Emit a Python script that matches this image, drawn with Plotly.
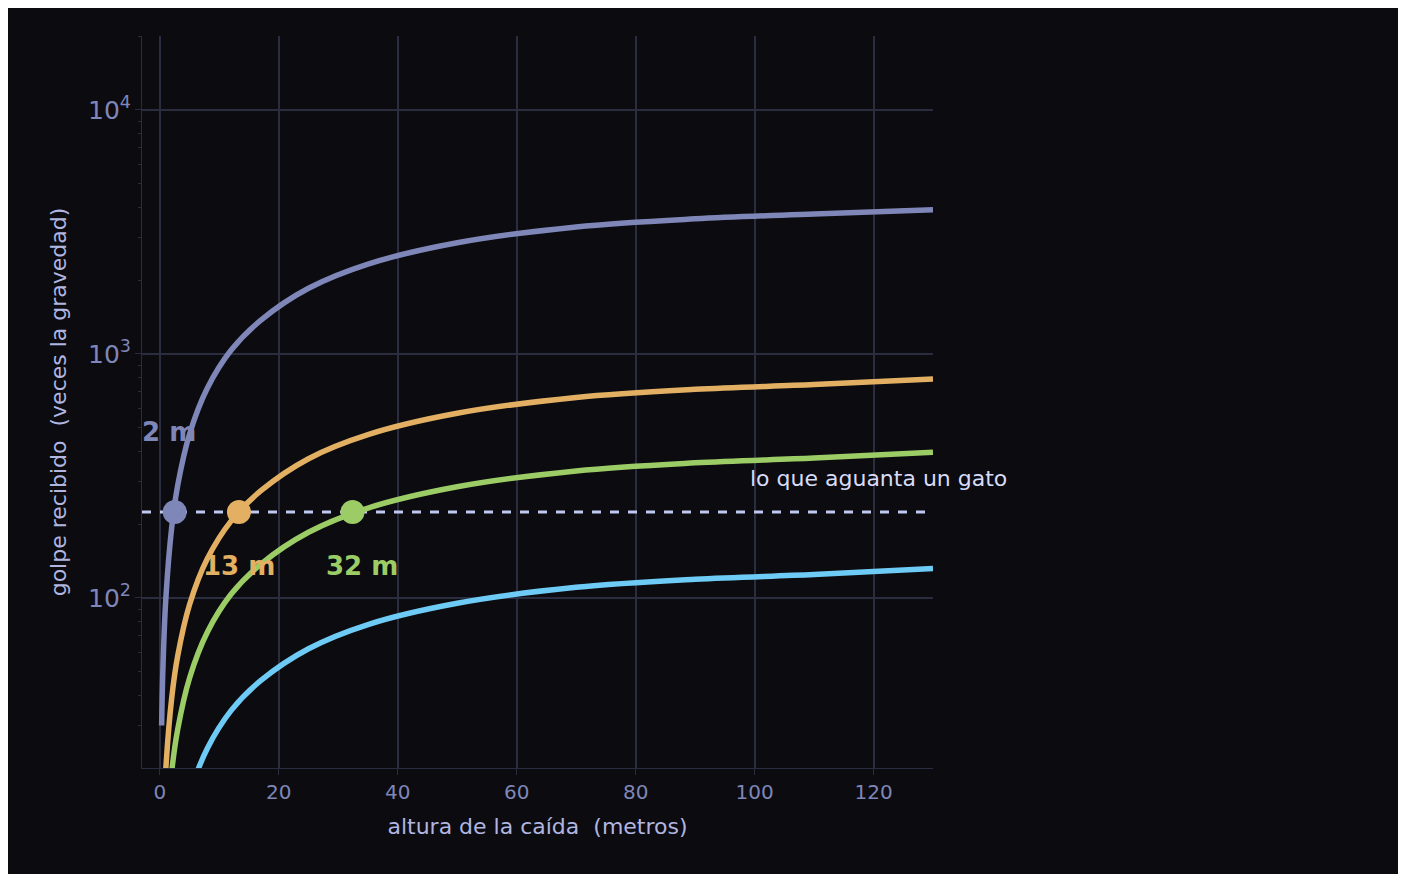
import plotly.graph_objects as go

# readings from the picture: drop height (m) vs. g-force
heights = [0.3, 0.5, 1, 2, 3, 5, 8, 12, 17, 25, 35, 50, 70, 90, 110, 130]
concrete = [30, 49.7, 98.8, 195, 289, 470, 725, 1037, 1376, 1858, 2335, 2854, 3316, 3578, 3744, 3900]
paws = [6, 9.9, 19.8, 39, 57.8, 94, 145, 207, 275, 372, 467, 571, 663, 716, 749, 790]
grass = [3, 5, 9.9, 19.5, 28.9, 47, 72.5, 103.7, 137.6, 185.8, 233.5, 285.4, 331.6, 357.8, 374.4, 395]
awning = [1, 1.66, 3.3, 6.5, 9.6, 15.7, 24.2, 34.6, 45.9, 61.9, 77.8, 95.1, 110.5, 119.3, 124.8, 132]

names = ["contra hormigón, sin flexionar", "sólo sus patas · 5 cm",
         "patas + césped · 10 cm", "patas + toldo · 30 cm"]
colors = ["#7f86b8", "#e3b063", "#9ccc65", "#6ecbf5"]
series = [concrete, paws, grass, awning]

limit = 225
cross_x = [2.5, 13.3, 32.4]

fig = go.Figure()
fig.add_trace(go.Scatter(x=[-3, 130], y=[limit, limit], mode="lines",
                         line=dict(color="#c0c8f0", width=3, dash="dash"), showlegend=False))
for ys, c, n in zip(series, colors, names):
    fig.add_trace(go.Scatter(x=heights, y=ys, mode="lines", line=dict(color=c, width=5.5, shape="spline"),
                             showlegend=False))
    fig.add_annotation(x=1.032, y=ys[-1], xref="paper", yref="y", text=n, showarrow=False,
                       xanchor="left", font=dict(color=c, size=21))

fig.add_trace(go.Scatter(x=cross_x, y=[limit] * 3, mode="markers",
                         marker=dict(color=colors[:3], size=24), showlegend=False))

fig.add_annotation(x=1.5, y=2.68, yref="y", xref="x", text="<b>2 m</b>", showarrow=False,
                   font=dict(color=colors[0], size=26))
fig.add_annotation(x=cross_x[1], y=2.13, yref="y", xref="x", text="<b>13 m</b>", showarrow=False,
                   font=dict(color=colors[1], size=26))
fig.add_annotation(x=34, y=2.13, yref="y", xref="x", text="<b>32 m</b>", showarrow=False,
                   font=dict(color=colors[2], size=26))
fig.add_annotation(x=1.096, y=2.49, yref="y", xref="paper", text="lo que aguanta un gato", showarrow=False,
                   xanchor="right", font=dict(color="#d8dcf8", size=22))

fig.update_layout(
    width=1406, height=874, paper_bgcolor="#0b0b10", plot_bgcolor="#0b0b10",
    margin=dict(l=134, r=481, t=28, b=114),
    font=dict(family="DejaVu Sans", color="#7f86b8", size=20),
    xaxis=dict(range=[-3, 130], tickvals=[0, 20, 40, 60, 80, 100, 120], gridcolor="#2a2c40",
               gridwidth=1.5, zeroline=False, showline=True, linecolor="#2a2c40", ticks="outside",
               tickcolor="#2a2c40", ticklen=6,
               title=dict(text="altura de la caída  (metros)", font=dict(color="#b0b6e0", size=22))),
    yaxis=dict(type="log", range=[1.303, 4.303], dtick=1, exponentformat="power", gridcolor="#2a2c40",
               gridwidth=1.5, zeroline=False, showline=True, linecolor="#2a2c40", ticks="outside",
               tickcolor="#2a2c40", ticklen=6,
               minor=dict(ticks="outside", ticklen=3, tickcolor="#2a2c40", showgrid=False),
               title=dict(text="golpe recibido  (veces la gravedad)", font=dict(color="#b0b6e0", size=22))),
)
fig.write_html("out.html")
